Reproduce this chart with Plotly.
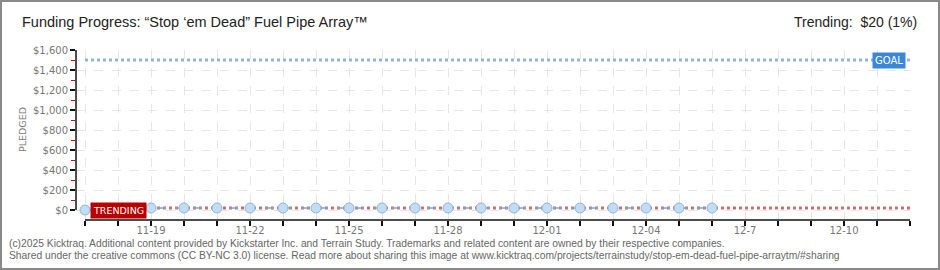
import pandas as pd
import plotly.graph_objects as go

# ---- data ----
dates = pd.date_range("2025-11-17", "2025-12-12", freq="D")
pledged_dates = pd.date_range("2025-11-17", "2025-12-06", freq="D")
pledged = [0, 0, 20, 20, 20, 20, 20, 20, 20, 20, 20, 20, 20, 20, 20, 20, 20, 20, 20, 20]
trend_dates = [pd.Timestamp("2025-11-17"), pd.Timestamp("2025-12-12")]
trend_values = [20, 20]
goal = 1500
goal_values = [goal, goal]
xtick_labels = {"2025-11-19": "11-19", "2025-11-22": "11-22", "2025-11-25": "11-25",
                "2025-11-28": "11-28", "2025-12-01": "12-01", "2025-12-04": "12-04",
                "2025-12-07": "12-7", "2025-12-10": "12-10"}
ytick_vals = [0, 200, 400, 600, 800, 1000, 1200, 1400, 1600]
ytick_text = ["$0", "$200", "$400", "$600", "$800", "$1,000", "$1,200", "$1,400", "$1,600"]
title_text = "Funding Progress: “Stop ‘em Dead” Fuel Pipe Array™"
trending_text = "Trending:  $20 (1%)"
footer1 = ("(c)2025 Kicktraq. Additional content provided by Kickstarter Inc. and Terrain Study. "
           "Trademarks and related content are owned by their respective companies.")
footer2 = ("Shared under the creative commons (CC BY-NC 3.0) license. Read more about sharing this image at "
           "www.kicktraq.com/projects/terrainstudy/stop-em-dead-fuel-pipe-arraytm/#sharing")
ytitle = "PLEDGED"

W, H = 940, 270
L, R, T, B = 76, 30, 50, 50
PW, PH = W - L - R, H - T - B


def px(x):
    return (x - L) / PW


def py(y):
    return (H - B - y) / PH


fig = go.Figure()

# goal line
fig.add_trace(go.Scatter(x=trend_dates, y=goal_values, mode="lines",
                         line=dict(color="#8fb4e0", width=3, dash="dot"),
                         hoverinfo="skip", showlegend=False))
# trend projection
fig.add_trace(go.Scatter(x=trend_dates, y=trend_values, mode="lines",
                         line=dict(color="#d46a6a", width=3, dash="dot"),
                         hoverinfo="skip", showlegend=False))
# pledged
fig.add_trace(go.Scatter(x=pledged_dates, y=pledged, mode="lines+markers",
                         line=dict(color="#7aa7d8", width=1.5, dash="dash"),
                         marker=dict(size=10, color="#c2dcf5", line=dict(color="#8fb4df", width=1)),
                         showlegend=False))

tickvals = list(dates)
ticktext = [xtick_labels.get(d.strftime("%Y-%m-%d"), "") for d in dates]

fig.update_xaxes(
    range=[dates[0] - pd.Timedelta(hours=6.55), dates[-1]],
    tickmode="array", tickvals=tickvals, ticktext=ticktext,
    ticks="outside", ticklen=5, tickwidth=1.5, tickcolor="#111",
    ticklabelstandoff=-4,
    showline=False, showgrid=True, gridcolor="#e6e6e6", griddash="dash", gridwidth=1,
    tickfont=dict(family="DejaVu Sans", size=10, color="#777"),
    zeroline=False, fixedrange=True,
)
fig.update_yaxes(
    range=[-100, 1600],
    tickmode="array", tickvals=ytick_vals, ticktext=ytick_text,
    ticks="outside", ticklen=5, tickwidth=1.5, tickcolor="#111",
    minor=dict(ticks="outside", tickcolor="#e00000", ticklen=4, tickwidth=1,
               tickvals=[v + 100 for v in ytick_vals[:-1]], showgrid=False),
    showline=False, showgrid=True, gridcolor="#e6e6e6", griddash="dash", gridwidth=1,
    tickfont=dict(family="DejaVu Sans", size=10, color="#777"),
    zeroline=False, fixedrange=True,
)

shapes = [
    # axis lines
    dict(type="line", xref="x", yref="y domain", x0=dates[0], x1=dates[-1], y0=0, y1=0,
         line=dict(color="#111", width=1.5)),
    dict(type="line", xref="x domain", yref="y", x0=0, x1=0, y0=ytick_vals[0], y1=ytick_vals[-1],
         line=dict(color="#111", width=1.5)),
    # outer border
    dict(type="rect", xref="paper", yref="paper", x0=px(1), x1=px(939), y0=py(269), y1=py(1),
         line=dict(color="#8a8a8a", width=2), fillcolor="rgba(0,0,0,0)", layer="above"),
]

annotations = [
    dict(text=title_text, xref="paper", yref="paper", x=px(20), y=py(22), xanchor="left", yanchor="middle",
         showarrow=False, font=dict(family="Liberation Sans", size=14.5, color="#222")),
    dict(text=trending_text, xref="paper", yref="paper", x=px(919), y=py(22), xanchor="right", yanchor="middle",
         showarrow=False, font=dict(family="Liberation Sans", size=14, color="#222")),
    dict(text=footer1, xref="paper", yref="paper", x=px(7), y=py(243), xanchor="left", yanchor="middle",
         showarrow=False, font=dict(family="Liberation Sans", size=10.3, color="#666")),
    dict(text=footer2, xref="paper", yref="paper", x=px(7), y=py(256), xanchor="left", yanchor="middle",
         showarrow=False, font=dict(family="Liberation Sans", size=10.3, color="#666")),
    dict(text=ytitle, xref="paper", yref="paper", x=px(22), y=py(130), xanchor="center", yanchor="middle",
         textangle=-90, showarrow=False, font=dict(family="DejaVu Sans", size=9.5, color="#777")),
    dict(text="GOAL", xref="x", yref="y", x=dates[-1], y=goal, xanchor="right", yanchor="middle", xshift=-4,
         showarrow=False, bgcolor="#3a87d8", borderpad=2,
         font=dict(family="DejaVu Sans", size=10, color="white")),
    dict(text="TRENDING", xref="x", yref="y", x=dates[1], y=pledged[1], xanchor="center", yanchor="middle",
         showarrow=False, bgcolor="#b80000", borderpad=2,
         font=dict(family="DejaVu Sans", size=9.5, color="white")),
]

fig.update_layout(
    width=W, height=H,
    margin=dict(l=L, r=R, t=T, b=B),
    paper_bgcolor="white", plot_bgcolor="white",
    shapes=shapes, annotations=annotations,
    showlegend=False,
)

fig.write_html("out.html", config={"displayModeBar": False})
